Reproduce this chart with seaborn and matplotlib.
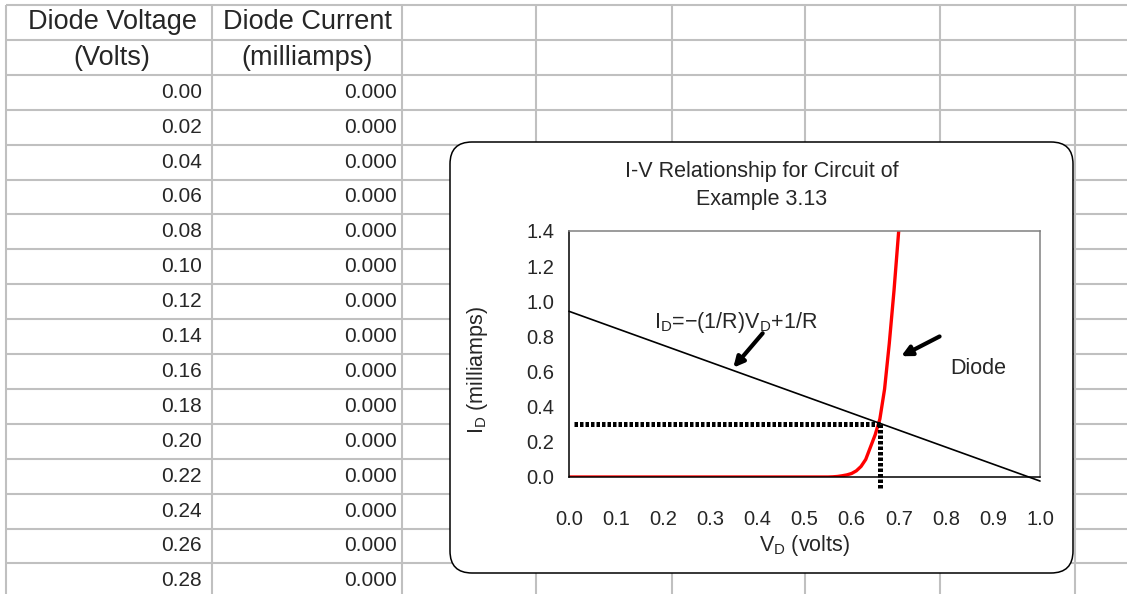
import matplotlib
matplotlib.use("Agg")
import matplotlib.pyplot as plt
import seaborn as sns
import pandas as pd
from matplotlib.patches import FancyBboxPatch

# spreadsheet columns
table_volts = [0.00, 0.02, 0.04, 0.06, 0.08, 0.10, 0.12, 0.14,
               0.16, 0.18, 0.20, 0.22, 0.24, 0.26, 0.28]
table_current = [0.000, 0.000, 0.000, 0.000, 0.000, 0.000, 0.000, 0.000,
                 0.000, 0.000, 0.000, 0.000, 0.000, 0.000, 0.000]

# diode I-V curve
diode_v = [0.00, 0.55, 0.56, 0.57, 0.58, 0.59, 0.60, 0.61, 0.62, 0.63,
           0.64, 0.65, 0.66, 0.67, 0.68, 0.69, 0.70]
diode_i = [0.000, 0.000, 0.001, 0.003, 0.007, 0.012, 0.020, 0.035, 0.060, 0.100,
           0.170, 0.240, 0.330, 0.500, 0.760, 1.060, 1.400]

# load line end points
load_v = [0.0, 1.0]
load_i = [0.943, -0.023]

# operating point
q_v = 0.66
q_i = 0.30

sns.set_style("white")
plt.rcParams['font.family'] = ['Liberation Sans', 'DejaVu Sans']
plt.rcParams['mathtext.fontset'] = 'custom'
plt.rcParams['mathtext.rm'] = 'Liberation Sans'

W, H = 1127, 594
fig = plt.figure(figsize=(W / 100, H / 100), dpi=100)

# background sheet in pixel coords
bg = fig.add_axes([0, 0, 1, 1])
bg.set_xlim(0, W)
bg.set_ylim(H, 0)
bg.axis('off')

col_edges = [6, 212, 402, 536, 672, 805, 940, 1075]
row_h = 34.9
row_edges = [5 + row_h * k for k in range(18)]
bg.vlines(col_edges, 5, H, color='#c0c0c0', lw=1.5)
bg.hlines(row_edges, 6, W, color='#c0c0c0', lw=1.5)

hdr = 19.5
bg.text(112, 22, 'Diode Voltage', ha='center', va='center', fontsize=hdr)
bg.text(112, 58, '(Volts)', ha='center', va='center', fontsize=hdr)
bg.text(307, 22, 'Diode Current', ha='center', va='center', fontsize=hdr)
bg.text(307, 58, '(milliamps)', ha='center', va='center', fontsize=hdr)
for k, (v, c) in enumerate(zip(table_volts, table_current)):
    yc = row_edges[2] + row_h * k + row_h / 2
    bg.text(202, yc, f'{v:.2f}', ha='right', va='center', fontsize=15)
    bg.text(397, yc, f'{c:.3f}', ha='right', va='center', fontsize=15)

# chart area
box = FancyBboxPatch((450, 142), 623, 431, boxstyle="round,pad=0,rounding_size=22",
                     fc='white', ec='black', lw=1.1, zorder=5)
bg.add_patch(box)
bg.text(762, 171, 'I-V Relationship for Circuit of', ha='center', va='center',
        fontsize=15.5, zorder=6)
bg.text(762, 200, 'Example 3.13', ha='center', va='center', fontsize=15.5, zorder=6)
bg.text(478, 370, r'I$_\mathregular{D}$ (milliamps)', ha='center', va='center',
        rotation=90, fontsize=15.5, zorder=6)
bg.text(805, 546, r'V$_\mathregular{D}$ (volts)', ha='center', va='center',
        fontsize=15.5, zorder=6)

x0, x1, y0, y1 = 569, 1040, 477, 231
ax = fig.add_axes([x0 / W, (H - y0) / H, (x1 - x0) / W, (y0 - y1) / H])
ax.set_zorder(10)
ax.patch.set_alpha(0)

diode_df = pd.DataFrame({'V': diode_v, 'I': diode_i})
load_df = pd.DataFrame({'V': load_v, 'I': load_i})
sns.lineplot(data=diode_df, x='V', y='I', color='#ff0000', lw=2.4, ax=ax,
             sort=False, estimator=None)
sns.lineplot(data=load_df, x='V', y='I', color='black', lw=1.2, ax=ax,
             sort=False, estimator=None, clip_on=False)

ax.plot([0.01, q_v], [q_i, q_i], color='black', lw=3.6, ls=(0, (0.7, 0.4)))
ax.plot([q_v, q_v], [q_i, -0.07], color='black', lw=3.6, ls=(0, (0.7, 0.4)),
        clip_on=False)

ax.set_xlim(0, 1.0)
ax.set_ylim(0, 1.4)
ax.set_xticks([i / 10 for i in range(11)])
ax.set_yticks([i / 5 for i in range(8)])
ax.set_xticklabels([f'{i / 10:.1f}' for i in range(11)])
ax.set_yticklabels([f'{i / 5:.1f}' for i in range(8)])
ax.set_xlabel('')
ax.set_ylabel('')
ax.tick_params(axis='both', direction='out', length=4.5, width=1, color='black',
               labelsize=14.5)
ax.tick_params(axis='x', pad=19)
ax.tick_params(axis='y', pad=6)
for s in ['left', 'bottom']:
    ax.spines[s].set_color('black')
    ax.spines[s].set_linewidth(1.1)
for s in ['top', 'right']:
    ax.spines[s].set_color('#808080')
    ax.spines[s].set_linewidth(1.1)

ax.annotate('', xy=(0.345, 0.61), xytext=(0.415, 0.83),
            arrowprops=dict(arrowstyle='-|>', lw=3, color='black', mutation_scale=15))
ax.text(0.18, 0.88, r'I$_\mathregular{D}$=$-$(1/R)V$_\mathregular{D}$+1/R',
        ha='left', va='center', fontsize=15.5)
ax.annotate('', xy=(0.70, 0.68), xytext=(0.792, 0.807),
            arrowprops=dict(arrowstyle='-|>', lw=3, color='black', mutation_scale=15))
ax.text(0.81, 0.62, 'Diode', ha='left', va='center', fontsize=15.5)

fig.savefig('out.png', dpi=100)
